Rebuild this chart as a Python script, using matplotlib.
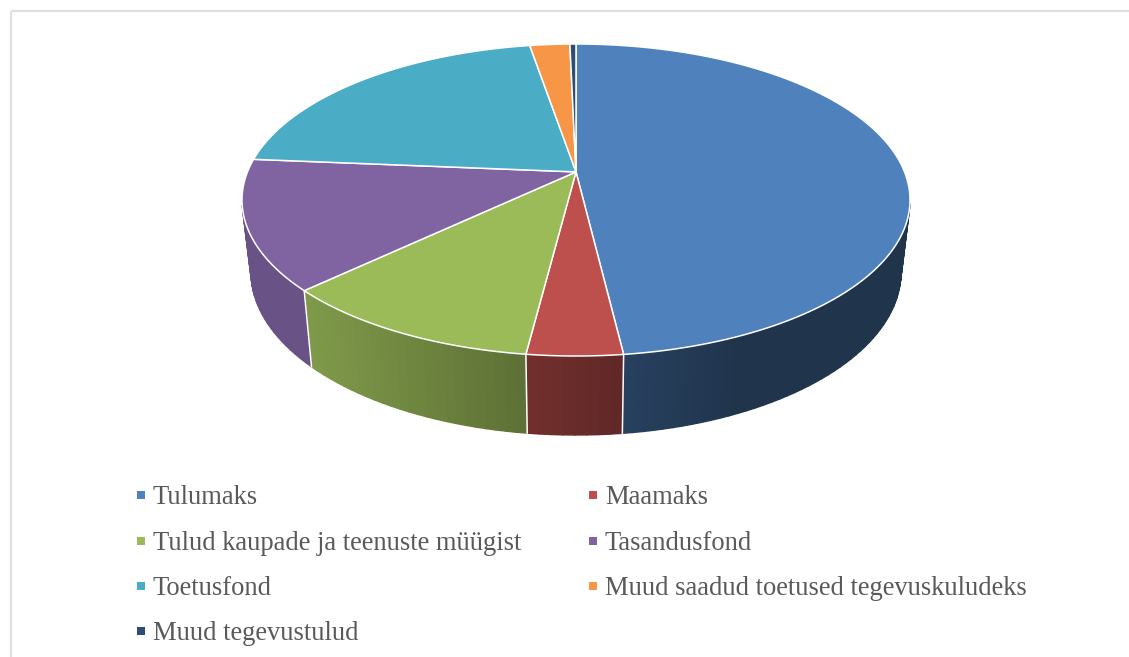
import numpy as np
import matplotlib
matplotlib.use("Agg")
import matplotlib.pyplot as plt
from matplotlib.patches import Polygon, Rectangle
from matplotlib.lines import Line2D
from matplotlib.colors import to_rgb

categories = ["Tulumaks", "Maamaks", "Tulud kaupade ja teenuste müügist", "Tasandusfond",
              "Toetusfond", "Muud saadud toetused tegevuskuludeks", "Muud tegevustulud"]
values = [48.1, 3.9, 10.9, 13.45, 21.0, 2.3, 0.35]
colors = ["#4f81bd", "#bd4f4c", "#9bbb59", "#8064a2", "#4bacc6", "#f79646", "#2c4d75"]

# perspective of the pie disc
CX, TOP_CY, TOP_A, TOP_B = 576, 200, 334, 156
BOT_CY, BOT_A, BOT_B = 272, 325, 163
C = 0.18
S = np.sqrt(1 - C**2)


def project(t, cy, a, b):
    X, Y = np.sin(t), np.cos(t)
    d = 1 + C * Y
    return CX + a * X * S / d, cy - b * (Y + C) / d


def shade(xn):
    return np.interp(xn, [-1, -0.8, -0.15, 0.15, 0.5, 1], [0.82, 0.82, 0.60, 0.50, 0.40, 0.40])


fig = plt.figure(figsize=(11.29, 6.57), dpi=100)
ax = fig.add_axes([0, 0, 1, 1])
ax.set_xlim(0, 1129)
ax.set_ylim(657, 0)
ax.axis("off")
ax.add_patch(Rectangle((10.5, 10.5), 1400, 900, fill=False, ec="#dfdfdf", lw=1.6, zorder=0))

frac = np.array(values) / np.sum(values)
edges = np.concatenate([[0], np.cumsum(frac)]) * 2 * np.pi

# side wall, painted as overlapping strips (front half only)
for i, col in enumerate(colors):
    ts = np.linspace(edges[i], edges[i + 1], max(3, int(frac[i] * 240)))
    rgb = np.array(to_rgb(col))
    for t0, t1 in zip(ts[:-1], ts[1:]):
        x0, y0 = project(t0, TOP_CY, TOP_A, TOP_B)
        x1, y1 = project(t1, TOP_CY, TOP_A, TOP_B)
        x2, y2 = project(t1, BOT_CY, BOT_A, BOT_B)
        x3, y3 = project(t0, BOT_CY, BOT_A, BOT_B)
        if max(y0, y1) < TOP_CY + 8:
            continue
        f = shade(((x2 + x3) / 2 - CX) / BOT_A)
        c = tuple(rgb * f)
        ax.add_patch(Polygon([(x0, y0), (x1, y1), (x2, y2), (x3, y3)], closed=True,
                             fc=c, ec=c, lw=1.0, joinstyle="round", zorder=1))
# white seams between slices on the wall
for t in edges[:-1]:
    xa, ya = project(t, TOP_CY, TOP_A, TOP_B)
    xb, yb = project(t, BOT_CY, BOT_A, BOT_B)
    if ya > TOP_CY:
        ax.plot([xa, xb], [ya, yb], color="white", lw=1.1, zorder=2)

# top surface
apex = (CX, TOP_CY - TOP_B * C)
for i, col in enumerate(colors):
    ts = np.linspace(edges[i], edges[i + 1], max(4, int(frac[i] * 800)))
    xs, ys = project(ts, TOP_CY, TOP_A, TOP_B)
    pts = [apex] + list(zip(xs, ys))
    ax.add_patch(Polygon(pts, closed=True, fc=col, ec="white", lw=1.1, joinstyle="round", zorder=3))

# legend, filled by columns so it reads row by row as in the original
order = [0, 2, 4, 6, 1, 3, 5]
handles = [Line2D([], [], ls="none", marker="s", ms=6, mfc=colors[i], mec=colors[i], mew=0) for i in order]
labels = [categories[i] for i in order]
leg = ax.legend(handles, labels, ncols=2, loc="upper left", bbox_to_anchor=(134.4, 485.5),
                bbox_transform=ax.transData, frameon=False,
                prop={"family": "Liberation Serif", "size": 19.1}, labelcolor="#595959",
                labelspacing=0.765, handlelength=0.5, handletextpad=0.2, columnspacing=2.45,
                borderpad=0, borderaxespad=0)

fig.savefig("out.png", dpi=100, facecolor="white")
